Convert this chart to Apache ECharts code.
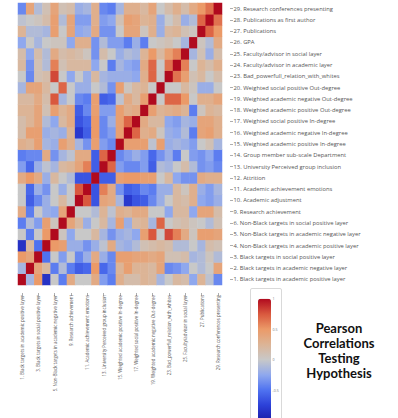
<!DOCTYPE html>
<html><head><meta charset="utf-8">
<script src="https://cdn.jsdelivr.net/npm/echarts@6/dist/echarts.min.js"></script>
<style>html,body{margin:0;padding:0;background:#fff}#c{width:398px;height:418px}</style>
</head><body><div id="c"></div>
<script>
const variables = [
"1. Black targets in academic positive layer",
"2. Black targets in academic negative layer",
"3. Black targets in social positive layer",
"4. Non-Black targets in academic positive layer",
"5. Non-Black targets in academic negative layer",
"6. Non-Black targets in social positive layer",
"9. Research achievement",
"10. Academic adjustment",
"11. Academic achievement emotions",
"12. Attrition",
"13. University Perceived group inclusion",
"14. Group member sub-scale Department",
"15. Weighted academic positive In-degree",
"16. Weighted academic negative In-degree",
"17. Weighted social positive In-degree",
"18. Weighted academic positive Out-degree",
"19. Weighted academic negative Out-degree",
"20. Weighted social positive Out-degree",
"23. Bad_powerfull_relation_with_whites",
"24. Faculty/advisor in academic layer",
"25. Faculty/advisor in social layer",
"26. GPA",
"27. Publications",
"28. Publications as first author",
"29. Research conferences presenting"];

// lower-triangle correlations: each row lists r(var, earlier vars) in order
const v1 = [];
const v2 = [-0.15];
const v3 = [0.5, 0.4];
const v4 = [-0.85, 0.2, -0.5];
const v5 = [0.0, -0.45, 0.0, 0.5];
const v6 = [-0.45, -0.1, -0.3, 0.45, 0.05];
const v9 = [0.35, -0.45, 0.0, -0.2, -0.25, 0.4];
const v10 = [0.0, -0.6, -0.4, -0.2, 0.0, 0.2, 0.0];
const v11 = [0.0, -0.55, -0.2, -0.35, 0.0, -0.2, 0.0, 0.75];
const v12 = [0.35, 0.5, 0.35, -0.2, 0.2, 0.0, -0.1, -0.65, -0.65];
const v13 = [-0.3, -0.55, -0.2, -0.05, -0.15, 0.2, 0.25, 0.4, 0.6, -0.6];
const v14 = [-0.45, -0.4, -0.4, 0.35, -0.35, -0.15, -0.05, 0.35, 0.35, -0.6, 0.7];
const v15 = [0.3, 0.25, 0.45, -0.15, -0.2, 0.45, 0.3, -0.15, -0.35, 0.45, -0.3, -0.4];
const v16 = [0.15, 0.45, 0.45, -0.2, -0.15, -0.2, 0.25, -0.8, -0.6, 0.5, -0.4, -0.3, 0.45];
const v17 = [0.15, 0.25, 0.4, -0.1, -0.25, 0.2, 0.35, -0.65, -0.55, 0.5, -0.4, -0.2, 0.45, 0.7];
const v18 = [0.25, 0.25, 0.4, 0.1, 0.45, 0.25, 0.35, -0.6, -0.4, 0.45, -0.3, -0.3, 0.45, 0.3, 0.35];
const v19 = [0.2, 0.2, 0.35, 0.15, 0.75, -0.15, 0.0, -0.4, -0.45, 0.45, -0.6, -0.55, -0.05, 0.35, 0.2, 0.45];
const v20 = [-0.15, 0.4, 0.4, 0.2, 0.0, 0.7, 0.0, -0.2, -0.2, 0.0, -0.1, -0.35, 0.45, 0.05, 0.2, 0.25, 0.0];
const v23 = [0.0, -0.4, 0.1, 0.15, 0.8, 0.0, -0.25, 0.0, -0.2, 0.2, -0.15, -0.2, -0.2, -0.2, -0.25, 0.3, 0.7, 0.0];
const v24 = [0.2, -0.35, 0.1, -0.1, 0.6, 0.1, 0.2, 0.2, 0.2, -0.25, 0.0, -0.45, -0.15, -0.25, -0.3, 0.35, 0.7, 0.0, 0.65];
const v25 = [0.15, -0.25, 0.15, -0.1, 0.35, 0.15, 0.2, 0.15, 0.05, -0.35, 0.15, 0.0, -0.2, -0.1, -0.15, 0.25, 0.5, 0.2, 0.45, 0.6];
const v26 = [-0.25, 0.0, -0.15, 0.0, 0.05, 0.05, -0.25, 0.3, 0.3, -0.35, -0.1, -0.3, -0.3, -0.45, -0.2, -0.45, 0.0, 0.05, 0.1, 0.0, -0.15];
const v27 = [0.25, -0.1, -0.1, -0.15, 0.45, 0.0, 0.4, -0.25, -0.2, 0.35, -0.35, -0.35, 0.0, 0.4, 0.4, 0.05, 0.3, -0.2, 0.2, 0.25, 0.1, 0.05];
const v28 = [-0.05, 0.0, 0.05, 0.15, 0.45, -0.1, 0.4, -0.3, -0.3, 0.3, -0.3, -0.25, 0.1, 0.45, 0.4, 0.25, 0.3, -0.2, 0.0, 0.15, -0.2, -0.1, 0.7];
const v29 = [-0.4, 0.4, -0.1, 0.1, 0.4, 0.1, 0.15, -0.2, -0.15, 0.3, -0.4, -0.45, -0.15, 0.3, 0.3, 0.2, 0.4, 0.0, 0.15, 0.3, 0.15, 0.35, 0.5, 0.65];

const colorbarTicks = [1, 0.5, 0, -0.5];
const titleLines = ["Pearson", "Correlations", "Testing", "Hypothesis"];

const lowerRows = [v1, v2, v3, v4, v5, v6, v9, v10, v11, v12, v13, v14, v15, v16, v17, v18, v19, v20, v23, v24, v25, v26, v27, v28, v29];
const cells = [];
lowerRows.forEach((row, i) => {
  row.forEach((v, j) => { cells.push([j, i, v]); cells.push([i, j, v]); });
  cells.push([i, i, 1]);
});

const chart = echarts.init(document.getElementById('c'), null, {renderer: 'svg'});
const barTop = 298.7, barH = 122, barLeft = 258, barW = 13;
const tickTexts = colorbarTicks.map(t => ({
  type: 'text', x: barLeft + barW + 1.5, y: barTop + (1 - t) / 2 * barH, z: 10,
  style: {text: String(t), fontSize: 3.6, fill: '#777', fontFamily: 'Open Sans', verticalAlign: 'middle', align: 'left'}
}));
chart.setOption({
  backgroundColor: '#fff',
  animation: false,
  grid: {left: 18, top: 3, width: 204, height: 282},
  xAxis: {
    type: 'category', data: variables, position: 'bottom', offset: 8,
    axisLine: {show: false},
    axisTick: {show: true, length: 3, interval: 1, alignWithLabel: true, lineStyle: {color: '#777', width: 0.6}},
    axisLabel: {interval: 1, rotate: 90, fontSize: 4.4, color: '#555', margin: 2, fontFamily: 'Open Sans'},
    splitLine: {show: false}
  },
  yAxis: {
    type: 'category', data: variables, position: 'right', offset: 8,
    axisLine: {show: false},
    axisTick: {show: true, length: 3, alignWithLabel: true, lineStyle: {color: '#777', width: 0.6}},
    axisLabel: {interval: 0, fontSize: 5.8, color: '#555', margin: 3.5, fontFamily: 'Open Sans'},
    splitLine: {show: false}
  },
  visualMap: {
    type: 'continuous', min: -1, max: 1, calculable: false, orient: 'vertical',
    left: barLeft, top: barTop, itemWidth: barW, itemHeight: barH,
    padding: 0, borderWidth: 0,
    text: null, hoverLink: false,
    inRange: {color: ['#1c1ca8', '#2c40d8', '#4f72f0', '#8fa8ee', '#c8c8c8', '#dcb496', '#eb9a68', '#d9583e', '#b00a1e']}
  },
  graphic: tickTexts.concat([{
    type: 'rect', shape: {x: 250.5, y: 288.5, width: 31, height: 140, r: 1.5}, z: 0,
    style: {fill: 'none', stroke: '#d9d9d9', lineWidth: 1}
  }, {
    type: 'text', x: 339, y: 320.5,
    style: {text: titleLines.join('\n'), fontSize: 13, fontWeight: 'bold', fill: '#111',
      fontFamily: 'Lato', align: 'center', verticalAlign: 'top', lineHeight: 15}
  }]),
  series: [{
    type: 'heatmap', data: cells, silent: true,
    itemStyle: {borderWidth: 0},
    emphasis: {disabled: true}
  }]
});
</script></body></html>
